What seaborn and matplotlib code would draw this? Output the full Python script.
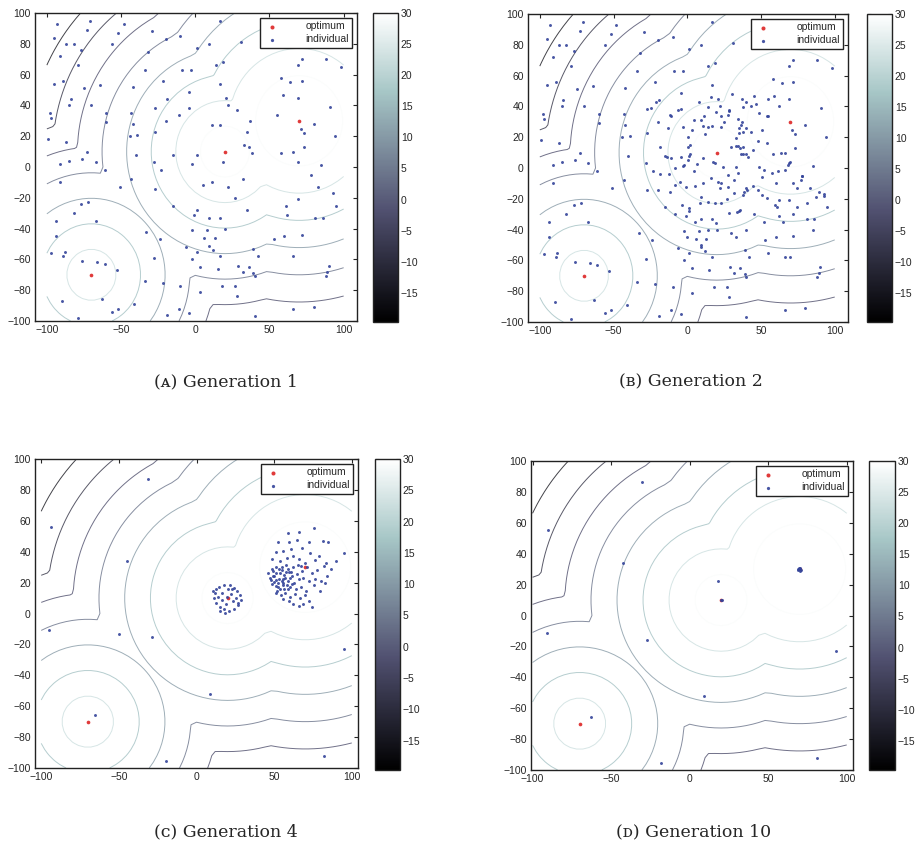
import numpy as np
import pandas as pd
import seaborn as sns
import matplotlib.pyplot as plt
from matplotlib.colors import Normalize
from matplotlib.cm import ScalarMappable

# fitness landscape: three cone shaped peaks
peak_x = [-70, 20, 70]
peak_y = [-70, 10, 30]
peak_h = [21.2, 26.5, 30.0]
peak_w = [0.32, 0.32, 0.30]

levels = [-15.9, -10.6, -5.3, 0.0, 5.3, 10.6, 15.9, 21.2, 26.5]
cbar_ticks = [-15, -10, -5, 0, 5, 10, 15, 20, 25, 30]
cbar_lo, cbar_hi = -19.7, 30

# generation 1 population
gen1_x = [-93, -95, -87, -82, -73, -71, -77, -91, -79, -52,
          -56, -48, -32, -89, -95, -75, -64, -22, -84, -85,
          -70, -98, -97, -60, -60, -43, -42, -44, -39, -34,
          -29, -20, -10, -42, -19, -27, -11, -20, -27, -99,
          -87, -73, -76, -85, -91, -67, -61, -40, -28, -23,
          -15, 1, -2, -91, -51, -43, -27, -15, -1, 1,
          -77, -72, -82, -94, -67, -94, -97, -88, -89, -76,
          -66, -61, -53, -33, -28, -24, -34, -22, -63, -90,
          -41, -56, -52, -79, -11, -4, 17, 9, 1, 31,
          14, 19, -9, -3, -4, -4, 17, 21, 22, 28,
          11, 17, 37, 35, 33, 36, 38, 19, 5, 11,
          22, 32, 58, 64, 72, 69, 72, 88, 98, 59,
          69, 55, 71, 73, 80, 91, 94, 58, 66, 73,
          69, 78, 85, 83, 93, 95, 61, 69, 62, 35,
          27, 81, 86, 9, 17, 20, 8, -2, 13, 6,
          9, 12, 17, 1, -2, 3, 15, 29, 32, 36,
          39, 40, 39, 42, 53, 60, 72, 66, 90, 89,
          88, 18, 27, 28, 3, -10, 66, 80, 40, -6,
          -19]
gen1_y = [93, 84, 80, 80, 89, 95, 76, 72, 66, 87,
          80, 93, 75, 56, 54, 51, 53, 56, 44, 40,
          40, 35, 32, 35, 29, 35, 28, 20, 21, 63,
          88, 83, 85, 52, 44, 38, 34, 30, 23, 18,
          16, 10, 5, 4, 2, 3, -2, 8, 3, -2,
          8, 8, 2, -10, -13, -8, -14, -25, -31, -28,
          -24, -23, -30, -35, -35, -45, -56, -55, -58, -61,
          -62, -63, -67, -42, -59, -47, -74, -75, -86, -87,
          -89, -94, -92, -98, -92, -95, 95, 80, 77, 81,
          66, 68, 63, 63, 49, 38, 54, 45, 40, 37,
          27, 27, 30, 23, 14, 13, 9, 3, -12, -10,
          -13, -8, 58, 55, 56, 66, 70, 70, 65, 47,
          45, 34, 25, 22, 28, 39, 20, 9, 10, 13,
          3, -5, 1, -13, -17, -25, -25, -21, -31, -28,
          -20, -33, -33, -33, -33, -40, -41, -41, -46, -46,
          -51, -54, -58, -55, -60, -65, -66, -64, -68, -65,
          -69, -71, -53, -58, -47, -45, -44, -58, -64, -68,
          -71, -77, -77, -84, -81, -77, -92, -91, -97, -52,
          -96]

# offspring added in generation 2
gen2_new_x = [37, 40, 28.6, 27.5, 43, 46.6, 48.8, 54.4, 14, 11.3,
              9.5, 19.6, 23, 4.5, 3.2, 14, 12.2, 23, 25.2, 34.2,
              35.3, 36.5, 39.8, 37.6, 33, 43.2, 51, 48, 54.4, 29.7,
              34.2, 37.6, 36.5, 39.8, 41, 44.3, 17.4, 10.6, 6.8, 4.5,
              24.1, 27.5, 33.1, 34.2, 48.8, 51.7, 50.4, 57.8, 61.2, 66.1,
              68.4, 69.7, 63.9, 78, 76.9, 72, 74.7, 38.7, 39.8, 37.6,
              40.5, 27.5, 23, 32, 44.3, 47.7, 51, 54.4, 59.4, 62.3,
              74.7, 81.4, 89.3, 92.6, 87, 20.7, 16.2, 9.5, 8.4, 14,
              18.5, 23, 28.6, 33.8, 36, 19.6, 14, 9.5, 29.7, 33.1,
              0.5, 1.6, 0.5, 45.4, 37.6, -11.9, -2.9, 0.4, 1.6, -13.7,
              -10.8, -4, -3, -8.6, -18.2, -12.4, -5.2, -0.7, -11.9, -8.6,
              -24.3, -20.9, -6.3, -18.7, -19.8, -3.4, 1.1, -13, 16, 30,
              8, 62, 55, 60, 45, 52, 65, 72, 85, 40,
              5, -8, 0, 55, 70]
gen2_new_y = [44.5, 43, 37.6, 34.4, 40, 41.3, 35.4, 33.7, 39.8, 33.7,
              31.1, 36.5, 33.7, 31, 24.6, 26.3, 22.4, 26.8, 30, 31.5,
              25.7, 27.9, 25.7, 23.5, 19.2, 23.5, 24.6, 17.7, 16.4, 13.8,
              14.2, 13.8, 9, 9, 7.3, 11.6, 4, 6.8, 2.5, -1.8,
              0.8, -4.7, 0.8, -3.1, 0.8, -1.4, -5.7, -3.1, -1.8, -1.4,
              1.9, 4, 9.9, -5.3, -7.9, -10, -13.3, -15.5, -13.3, -17.7,
              -14.4, -12.2, -10, -16.1, -11.8, -14.4, -17.7, -19.4, -24.2, -20.9,
              -25.2, -22.6, -15.5, -18.3, -18.8, -9, -6.8, -18.7, -23, -22,
              -23, -22.6, -29.1, -28.5, -27.4, -36, -40.4, -50.2, -42.2, -44.8,
              13.8, 9.4, 5.1, 46.7, 39.8, 34.3, 26.3, 20.3, 14.8, 7.3,
              6.2, 7.3, 1.2, 0.3, -3.6, -3.6, -9, -12.2, -15.5, -11.2,
              38.7, 43, 37.6, 13.7, -14.4, -24.2, -25.7, 25.7, 46, 48,
              43, 40, 45, -10, -30, -35, -35, -30, -40, -40,
              -35, -30, -45, -55, -58]

# generation 4: a few survivors and two clusters
gen4_rest_x = [-93.5, -31, -44.6, -94.8, -49.6, -28.5, 8.7, -65.4, -19.8, 82.4, 95]
gen4_rest_y = [55.7, 87, 34, -10.7, -13.5, -15.5, -52.4, -65.6, -95.7, -92, -22.8]
gen4_c1_x = [12.4, 14.6, 17.4, 21.7, 24.3, 26.1, 28.3, 28.7, 27, 24.3,
             21.1, 17.8, 15.2, 12.4, 11.3, 11.7, 16.1, 19.6, 22.2, 23.3,
             16.7, 18.9, 13.9, 25.4, 22.6, 20, 18.3, 15.2, 26.5, 10.9]
gen4_c1_y = [15.7, 17.4, 18.3, 18.3, 16.8, 14.6, 11.8, 8.8, 5.3, 2.7,
             1.7, 2.7, 4.5, 7.1, 10.3, 13.1, 13.5, 11, 12.5, 8.1,
             8.8, 6, 11, 10.3, 15.7, 15.7, 0.1, 1.7, 7.1, 14.6]
gen4_c2_x = [58.7, 65.7, 75.4, 52.6, 59.6, 64.6, 72.2, 81.3, 84.8, 50.9,
             55.9, 60.9, 67.8, 73.3, 78.7, 48.7, 53.7, 58, 62.4, 65.7,
             70, 76.1, 83.5, 89.6, 95, 46.1, 48.7, 51.5, 54.8, 57.4,
             59.6, 62.4, 65.2, 67.8, 71.1, 74.3, 77.6, 81.9, 86.3, 47.2,
             50, 53, 56.5, 59.1, 61.7, 65.7, 68.9, 72.2, 76.5, 80.4,
             84.1, 48.7, 52.2, 55.9, 58.7, 61.3, 63.9, 67.4, 70.4, 75.4,
             82.6, 50.9, 54.3, 57, 60.2, 63.5, 66.7, 69.6, 72.6, 62.4,
             65.7, 68.9, 74.3, 59.6, 55.9, 79.8, 54.8, 58, 60.2, 64.6,
             67.4, 51.5, 56.5, 49.5, 51, 52.5, 53.5, 50, 55.5, 57.5,
             53, 56, 49, 57, 54, 60.5, 52, 48, 59, 61,
             63, 55, 51]
gen4_c2_y = [52, 52.9, 55.1, 46, 46, 47.7, 46, 47.1, 46.4, 39.5,
             40.6, 41.7, 42.1, 39.1, 37.3, 35.2, 34.1, 35.6, 37.3, 35.2,
             33, 34.7, 33, 34.1, 39.1, 26.5, 29.1, 30.4, 28.2, 31.3,
             26.9, 29.8, 31.3, 27.6, 29.8, 26.5, 28.2, 30.8, 29.1, 23.3,
             24.4, 22.2, 24.8, 21.1, 24.4, 22.2, 23.3, 21.1, 22.6, 21.1,
             24.4, 19, 17.4, 18.3, 15.7, 19, 15.7, 17.4, 14.6, 18.3,
             19.6, 13.5, 11.8, 13.5, 10.9, 12.5, 10.3, 11.8, 8.1, 6,
             4.9, 6, 4.5, 8.1, 9.2, 14.6, 21.1, 18.3, 23.3, 25.4,
             30.8, 26.5, 15.7, 27.5, 22, 20, 26, 20.5, 22.5, 27,
             29, 19.5, 24, 23, 16, 17, 14.5, 22, 29, 27,
             20, 30, 18]

# generation 10: converged population
gen10_x = [-90, -30.5, -42.7, -90.6, -27.3, 93, 9.3, -63, -18.5, 80.8,
           17.9, 20, 20.4, 69.2, 70.2, 69.6, 70.6, 69, 70, 69.8, 70.4]
gen10_y = [55.2, 86.4, 34.1, -11.2, -15.9, -22.8, -52.1, -65.9, -95.6, -92,
           22.4, 10, 10.3, 29.3, 30.1, 30.6, 29.6, 30.2, 29, 29.8, 30.8]

captions = ["(\u1d00) Generation 1", "(\u0299) Generation 2",
            "(\u1d04) Generation 4", "(\u1d05) Generation 10"]

gen1 = pd.DataFrame({"x": gen1_x, "y": gen1_y})
gen2 = pd.concat([gen1, pd.DataFrame({"x": gen2_new_x, "y": gen2_new_y})])
gen4 = pd.DataFrame({"x": gen4_rest_x + gen4_c1_x + gen4_c2_x,
                     "y": gen4_rest_y + gen4_c1_y + gen4_c2_y})
gen10 = pd.DataFrame({"x": gen10_x, "y": gen10_y})
optima = pd.DataFrame({"x": peak_x, "y": peak_y})

sns.set_style("white")
plt.rcParams["font.family"] = ["Liberation Sans", "DejaVu Sans"]

# landscape sampled on the search domain only (contours stop at +-100)
gx = np.linspace(-100, 100, 51)
GX, GY = np.meshgrid(gx, gx)
Z = np.max([h - w * np.hypot(GX - px, GY - py)
            for px, py, h, w in zip(peak_x, peak_y, peak_h, peak_w)], axis=0)

norm = Normalize(vmin=cbar_lo, vmax=cbar_hi)
# upper contour levels fade to almost white, as in the printed figure
line_norm = Normalize(vmin=cbar_lo, vmax=22)
W, H = 917, 852


def rect(l, t, r, b):
    return [l / W, 1 - b / H, (r - l) / W, (b - t) / H]


panels = [
    (gen1, rect(35, 13, 357, 321), rect(373, 13, 398, 322), (-108, 109), (226, 382)),
    (gen2, rect(528, 14, 848, 322), rect(867, 14, 892, 322), (-108, 109), (691, 382)),
    (gen4, rect(35, 459, 358, 768), rect(375, 459, 400, 770), (-104, 104), (226, 832)),
    (gen10, rect(531, 461, 853, 770), rect(869, 461, 895, 770), (-101, 104), (694, 832)),
]

fig = plt.figure(figsize=(W / 100, H / 100), dpi=100)
ind_color = "#34449a"

for (df, arect, crect, xlim, cpos), cap in zip(panels, captions):
    ax = fig.add_axes(arect)
    ax.contour(GX, GY, Z, levels=levels, cmap="bone", norm=line_norm,
               linewidths=0.7, alpha=0.8, zorder=1)
    sns.scatterplot(data=optima, x="x", y="y", ax=ax, color="#e03a3a", s=7,
                    linewidth=0, label="optimum", zorder=2)
    sns.scatterplot(data=df, x="x", y="y", ax=ax, color=ind_color, s=4.5,
                    linewidth=0, alpha=0.9, label="individual", zorder=3)
    ax.set_xlim(*xlim)
    ax.set_ylim(-100, 100)
    ax.set_xticks([-100, -50, 0, 50, 100])
    ax.set_yticks(range(-100, 101, 20))
    ax.set_xlabel("")
    ax.set_ylabel("")
    ax.tick_params(direction="in", top=True, right=True, length=3,
                   width=0.8, labelsize=7.5, pad=3)
    for sp in ax.spines.values():
        sp.set_color("#222222")
        sp.set_linewidth(1.0)
    leg = ax.legend(loc="upper right", fontsize=7.5, frameon=True,
                    fancybox=False, framealpha=1, edgecolor="#222222",
                    handletextpad=2.4, handlelength=1.6, borderpad=0.35,
                    labelspacing=0.3, borderaxespad=0.45, markerscale=1.1)
    leg.get_frame().set_linewidth(1.0)

    cax = fig.add_axes(crect)
    cb = fig.colorbar(ScalarMappable(norm=norm, cmap="bone"), cax=cax,
                      ticks=cbar_ticks)
    cax.tick_params(direction="in", left=True, right=True, length=3,
                    width=0.8, labelsize=7.5, pad=2)
    cb.outline.set_edgecolor("#222222")
    cb.outline.set_linewidth(1.0)

    fig.text(cpos[0] / W, 1 - cpos[1] / H, cap, ha="center", va="center",
             fontsize=12.5, family=["DejaVu Serif", "DejaVu Sans"])

fig.savefig("out.png", dpi=100)
